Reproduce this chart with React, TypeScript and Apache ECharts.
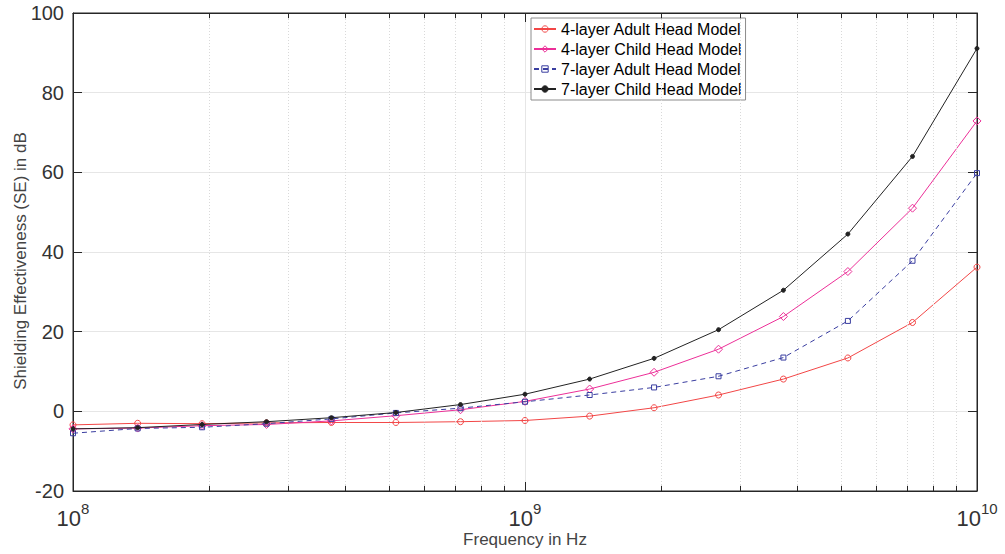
import React, { useEffect, useRef } from "react";
import * as echarts from "echarts";

const freqs = [1.0e8, 1.39e8, 1.93e8, 2.68e8, 3.73e8, 5.18e8, 7.2e8, 1.0e9, 1.39e9, 1.93e9, 2.68e9, 3.73e9, 5.18e9, 7.2e9, 1.0e10];
const adult4 = [-3.4, -3.0, -3.1, -2.9, -2.8, -2.8, -2.6, -2.3, -1.2, 0.9, 4.1, 8.1, 13.4, 22.3, 36.2];
const child4 = [-4.4, -4.2, -3.6, -3.3, -2.4, -1.1, 0.4, 2.5, 5.6, 9.8, 15.6, 23.8, 35.1, 51.0, 72.9];
const adult7 = [-5.5, -4.3, -4.0, -3.1, -1.9, -0.4, 0.8, 2.4, 4.1, 6.0, 8.8, 13.5, 22.7, 37.8, 59.8];
const child7 = [-4.4, -4.1, -3.3, -2.6, -1.6, -0.3, 1.7, 4.3, 8.1, 13.3, 20.5, 30.4, 44.5, 64.0, 91.1];
const seriesNames = ["4-layer Adult Head Model", "4-layer Child Head Model", "7-layer Adult Head Model", "7-layer Child Head Model"];
const minorTicks = [2e8, 3e8, 4e8, 5e8, 6e8, 7e8, 8e8, 9e8, 2e9, 3e9, 4e9, 5e9, 6e9, 7e9, 8e9, 9e9];

const Y_MIN = -20;
const Y_MAX = 100;
const FONT = "'Liberation Sans', Arial, Helvetica, sans-serif";
const COLORS = ["#f24646", "#ec2f98", "#3a3ea0", "#222222"];

export default function App() {
  const ref = useRef<HTMLDivElement>(null);
  useEffect(() => {
    if (!ref.current) return;
    const chart = echarts.init(ref.current, undefined, { renderer: "svg" });
    const pairs = (ys: number[]) => freqs.map((f, i) => [f, ys[i]]);
    const minorGrid = minorTicks.map((m) => [{ coord: [m, Y_MIN] }, { coord: [m, Y_MAX] }]);
    const tickLen = 1.3;
    const minorTickMarks = minorTicks.flatMap((m) => [
      [{ coord: [m, Y_MIN] }, { coord: [m, Y_MIN + tickLen] }],
      [{ coord: [m, Y_MAX] }, { coord: [m, Y_MAX - tickLen] }],
    ]);
    const axisLineStyle = { show: true, onZero: false, lineStyle: { color: "#262626", width: 1 } };
    const HOLLOW = "rgba(255,255,255,0)";
    const mk = (name: string, ys: number[], color: string, symbol: string, size: number, dash: any, fill: string, z: number) => ({
      name,
      type: "line",
      data: pairs(ys),
      symbol,
      symbolSize: size,
      showSymbol: true,
      color,
      lineStyle: { width: 1, color, type: dash },
      itemStyle: { color: fill, borderColor: color, borderWidth: 1, borderType: "solid" },
      emphasis: { disabled: true },
      z,
    });
    const option: any = {
      animation: false,
      backgroundColor: "#ffffff",
      textStyle: { fontFamily: FONT },
      grid: {
        left: 73,
        right: 28,
        top: 13,
        bottom: 63,
        show: true,
        borderColor: "#262626",
        borderWidth: 1,
        containLabel: false,
        outerBoundsMode: "none",
      },
      legend: {
        data: seriesNames.map((n, i) => ({
          name: n,
          itemStyle: { color: i < 3 ? HOLLOW : COLORS[3], borderColor: COLORS[i], borderWidth: 1 },
        })),
        orient: "vertical",
        left: 531,
        top: 18,
        backgroundColor: "#ffffff",
        borderColor: "#8c8c8c",
        borderWidth: 1,
        borderRadius: 0,
        padding: [3, 4, 3, 2],
        itemGap: 4,
        itemWidth: 22,
        itemHeight: 8,
        textStyle: { fontSize: 16, color: "#000", fontFamily: FONT },
      },
      xAxis: [
        {
          type: "log",
          logBase: 10,
          min: 1e8,
          max: 1e10,
          name: "Frequency in Hz",
          nameLocation: "middle",
          nameGap: 40,
          nameMoveOverlap: false,
          nameTextStyle: { fontSize: 17, color: "#444", fontFamily: FONT },
          axisLine: axisLineStyle,
          axisTick: { show: true, inside: true, length: 9, lineStyle: { color: "#262626" } },
          splitLine: { show: true, lineStyle: { color: "#e6e6e6", width: 1 } },
          axisLabel: {
            margin: 10,
            formatter: (v: number) => `{b|10}{s|${Math.round(Math.log10(v))}}`,
            rich: {
              b: { fontSize: 22, color: "#333", fontFamily: FONT, verticalAlign: "bottom", padding: [6, 0, 0, 0] },
              s: { fontSize: 15, color: "#333", fontFamily: FONT, verticalAlign: "top", padding: [0, 0, 10, 0] },
            },
          },
        },
        {
          type: "log",
          logBase: 10,
          min: 1e8,
          max: 1e10,
          position: "top",
          axisLine: axisLineStyle,
          axisTick: { show: true, inside: true, length: 9, lineStyle: { color: "#262626" } },
          splitLine: { show: false },
          axisLabel: { show: false },
        },
      ],
      yAxis: [
        {
          type: "value",
          min: Y_MIN,
          max: Y_MAX,
          interval: 20,
          name: "Shielding Effectiveness (SE) in dB",
          nameLocation: "middle",
          nameGap: 44,
          nameMoveOverlap: false,
          nameTextStyle: { fontSize: 17, color: "#444", fontFamily: FONT, padding: [0, 0, 0, -18] },
          axisLine: axisLineStyle,
          axisTick: { show: true, inside: true, length: 9, lineStyle: { color: "#262626" } },
          splitLine: { show: true, lineStyle: { color: "#e6e6e6", width: 1 } },
          axisLabel: { fontSize: 20, color: "#333", margin: 9, fontFamily: FONT },
        },
        {
          type: "value",
          min: Y_MIN,
          max: Y_MAX,
          interval: 20,
          position: "right",
          axisLine: axisLineStyle,
          axisTick: { show: true, inside: true, length: 9, lineStyle: { color: "#262626" } },
          splitLine: { show: false },
          axisLabel: { show: false },
        },
      ],
      series: [
        {
          name: "minor-grid",
          type: "line",
          data: [],
          silent: true,
          markLine: {
            silent: true,
            symbol: "none",
            label: { show: false },
            lineStyle: { color: "#d9d9d9", type: [1, 2], width: 1 },
            data: minorGrid,
          },
        },
        {
          name: "minor-ticks",
          type: "line",
          data: [],
          silent: true,
          z: 5,
          markLine: {
            silent: true,
            symbol: "none",
            label: { show: false },
            lineStyle: { color: "#262626", type: "solid", width: 1 },
            data: minorTickMarks,
          },
        },
        mk(seriesNames[0], adult4, COLORS[0], "circle", 6, "solid", HOLLOW, 3),
        mk(seriesNames[1], child4, COLORS[1], "diamond", 8, "solid", HOLLOW, 4),
        mk(seriesNames[2], adult7, COLORS[2], "rect", 5, [5, 4], HOLLOW, 5),
        mk(seriesNames[3], child7, COLORS[3], "circle", 4, "solid", COLORS[3], 6),
      ],
    };
    chart.setOption(option);
    return () => chart.dispose();
  }, []);
  return <div ref={ref} style={{ width: 1005, height: 554, position: "absolute", left: 0, top: 0 }} />;
}
